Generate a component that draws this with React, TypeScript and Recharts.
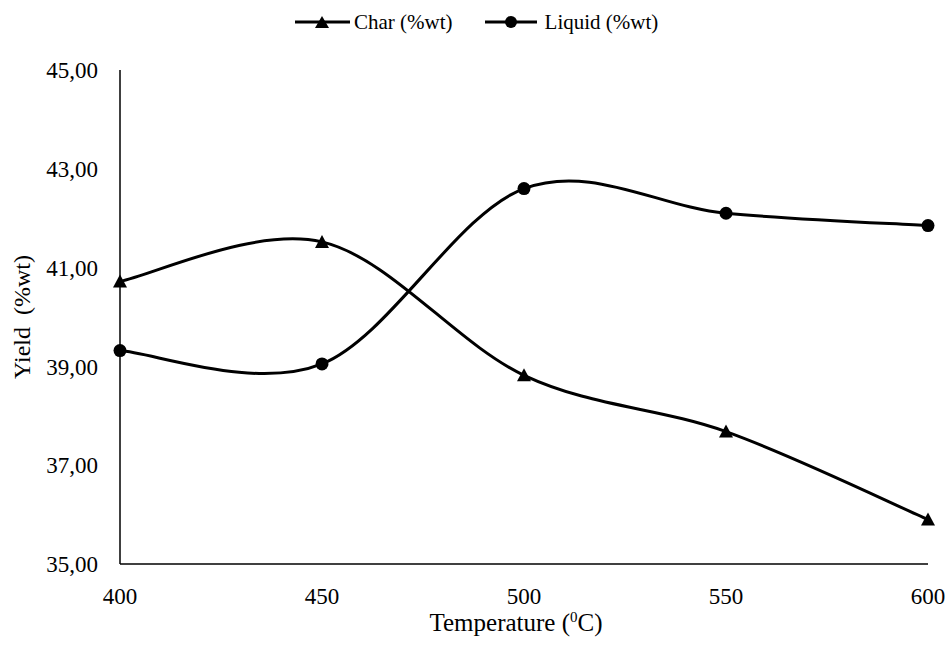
import React from "react"
import { LineChart, Line, XAxis, YAxis, Legend } from "recharts"

const temperatures = [400, 450, 500, 550, 600]
const charYield = [40.72, 41.52, 38.82, 37.68, 35.9]
const liquidYield = [39.32, 39.05, 42.6, 42.1, 41.85]
const xTicks = [400, 450, 500, 550, 600]
const yTicks = [35, 37, 39, 41, 43, 45]

const FONT = '"Liberation Serif", "Times New Roman", serif'

const data = temperatures.map((t, i) => ({
  temp: t,
  char: charYield[i],
  liquid: liquidYield[i]
}))

// smoothed line like Excel's "smoothed line" option (catmull-rom style bezier)
const excelSmooth = (context: any) => {
  let pts: number[][] = []
  return {
    areaStart() {},
    areaEnd() {},
    lineStart() {
      pts = []
    },
    point(x: number, y: number) {
      pts.push([+x, +y])
    },
    lineEnd() {
      const n = pts.length
      if (!n) return
      context.moveTo(pts[0][0], pts[0][1])
      for (let i = 0; i < n - 1; i++) {
        const p0 = pts[i - 1] || pts[i]
        const p1 = pts[i]
        const p2 = pts[i + 1]
        const p3 = pts[i + 2] || p2
        context.bezierCurveTo(
          p1[0] + (p2[0] - p0[0]) / 6,
          p1[1] + (p2[1] - p0[1]) / 6,
          p2[0] - (p3[0] - p1[0]) / 6,
          p2[1] - (p3[1] - p1[1]) / 6,
          p2[0],
          p2[1]
        )
      }
    }
  }
}

const TriangleDot = (props: any) => {
  const { cx, cy, index } = props
  if (cx == null || cy == null) return <g key={`t-${index}`} />
  return (
    <polygon
      key={`t-${index}`}
      points={`${cx - 7},${cy + 6} ${cx + 7},${cy + 6} ${cx},${cy - 7}`}
      fill="#000"
    />
  )
}

const CircleDot = (props: any) => {
  const { cx, cy, index } = props
  if (cx == null || cy == null) return <g key={`c-${index}`} />
  return <circle key={`c-${index}`} cx={cx} cy={cy} r={6.5} fill="#000" />
}

const fmt = (v: number) => v.toFixed(2).replace(".", ",")

const XTitle = (props: any) => {
  const vb = props.viewBox || { x: 120, y: 564, width: 808 }
  return (
    <text
      x={vb.x + vb.width / 2 - 8}
      y={vb.y + 67}
      textAnchor="middle"
      fontFamily={FONT}
      fontSize={25}
      fill="#000"
    >
      Temperature (
      <tspan fontSize={15} dy={-9}>0</tspan>
      <tspan dy={9}>C)</tspan>
    </text>
  )
}

const YTitle = (props: any) => {
  const vb = props.viewBox || { y: 70, height: 494 }
  const cx = 22
  const cy = vb.y + vb.height / 2
  return (
    <text
      x={cx}
      y={cy}
      dy="0.35em"
      textAnchor="middle"
      transform={`rotate(-90, ${cx}, ${cy})`}
      fontFamily={FONT}
      fontSize={24}
      fill="#000"
      style={{ whiteSpace: "pre" }}
    >
      {"Yield  (%wt)"}
    </text>
  )
}

const LegendBox = () => (
  <div
    style={{
      display: "flex",
      alignItems: "center",
      height: 24,
      paddingLeft: 295,
      fontFamily: FONT,
      fontSize: 21,
      color: "#000"
    }}
  >
    <svg width={55} height={20} style={{ display: "block" }}>
      <line x1={0} y1={10} x2={55} y2={10} stroke="#000" strokeWidth={3} />
      <polygon points="20,16 34,16 27,4" fill="#000" />
    </svg>
    <span style={{ marginLeft: 4, marginRight: 32 }}>Char (%wt)</span>
    <svg width={52} height={20} style={{ display: "block" }}>
      <line x1={0} y1={10} x2={52} y2={10} stroke="#000" strokeWidth={3} />
      <circle cx={26} cy={10} r={6} fill="#000" />
    </svg>
    <span style={{ marginLeft: 8 }}>Liquid (%wt)</span>
  </div>
)

export default function App() {
  return (
    <div style={{ position: "absolute", left: 0, top: 0, width: 952, height: 647, background: "#fff" }}>
      <LineChart
        width={952}
        height={647}
        data={data}
        margin={{ top: 46, right: 24, bottom: 0, left: 0 }}
      >
        <XAxis
          dataKey="temp"
          type="number"
          domain={[400, 600]}
          ticks={xTicks}
          height={83}
          axisLine={{ stroke: "#000", strokeWidth: 1.5 }}
          tickLine={false}
          tickSize={0}
          tickMargin={24}
          tick={{ fill: "#000", fontFamily: FONT, fontSize: 23 }}
          label={{ content: XTitle }}
        />
        <YAxis
          type="number"
          domain={[35, 45]}
          ticks={yTicks}
          width={120}
          axisLine={{ stroke: "#000", strokeWidth: 1.5 }}
          tickLine={false}
          tickSize={0}
          tickMargin={22}
          tickFormatter={fmt}
          tick={{ fill: "#000", fontFamily: FONT, fontSize: 23 }}
          label={{ content: YTitle }}
        />
        <Legend
          verticalAlign="top"
          content={LegendBox}
          wrapperStyle={{ top: 10, left: 0, width: 952, height: 24 }}
        />
        <Line
          dataKey="char"
          type={excelSmooth as any}
          stroke="#000"
          strokeWidth={3}
          dot={TriangleDot}
          activeDot={false}
          isAnimationActive={false}
        />
        <Line
          dataKey="liquid"
          type={excelSmooth as any}
          stroke="#000"
          strokeWidth={3}
          dot={CircleDot}
          activeDot={false}
          isAnimationActive={false}
        />
      </LineChart>
    </div>
  )
}
